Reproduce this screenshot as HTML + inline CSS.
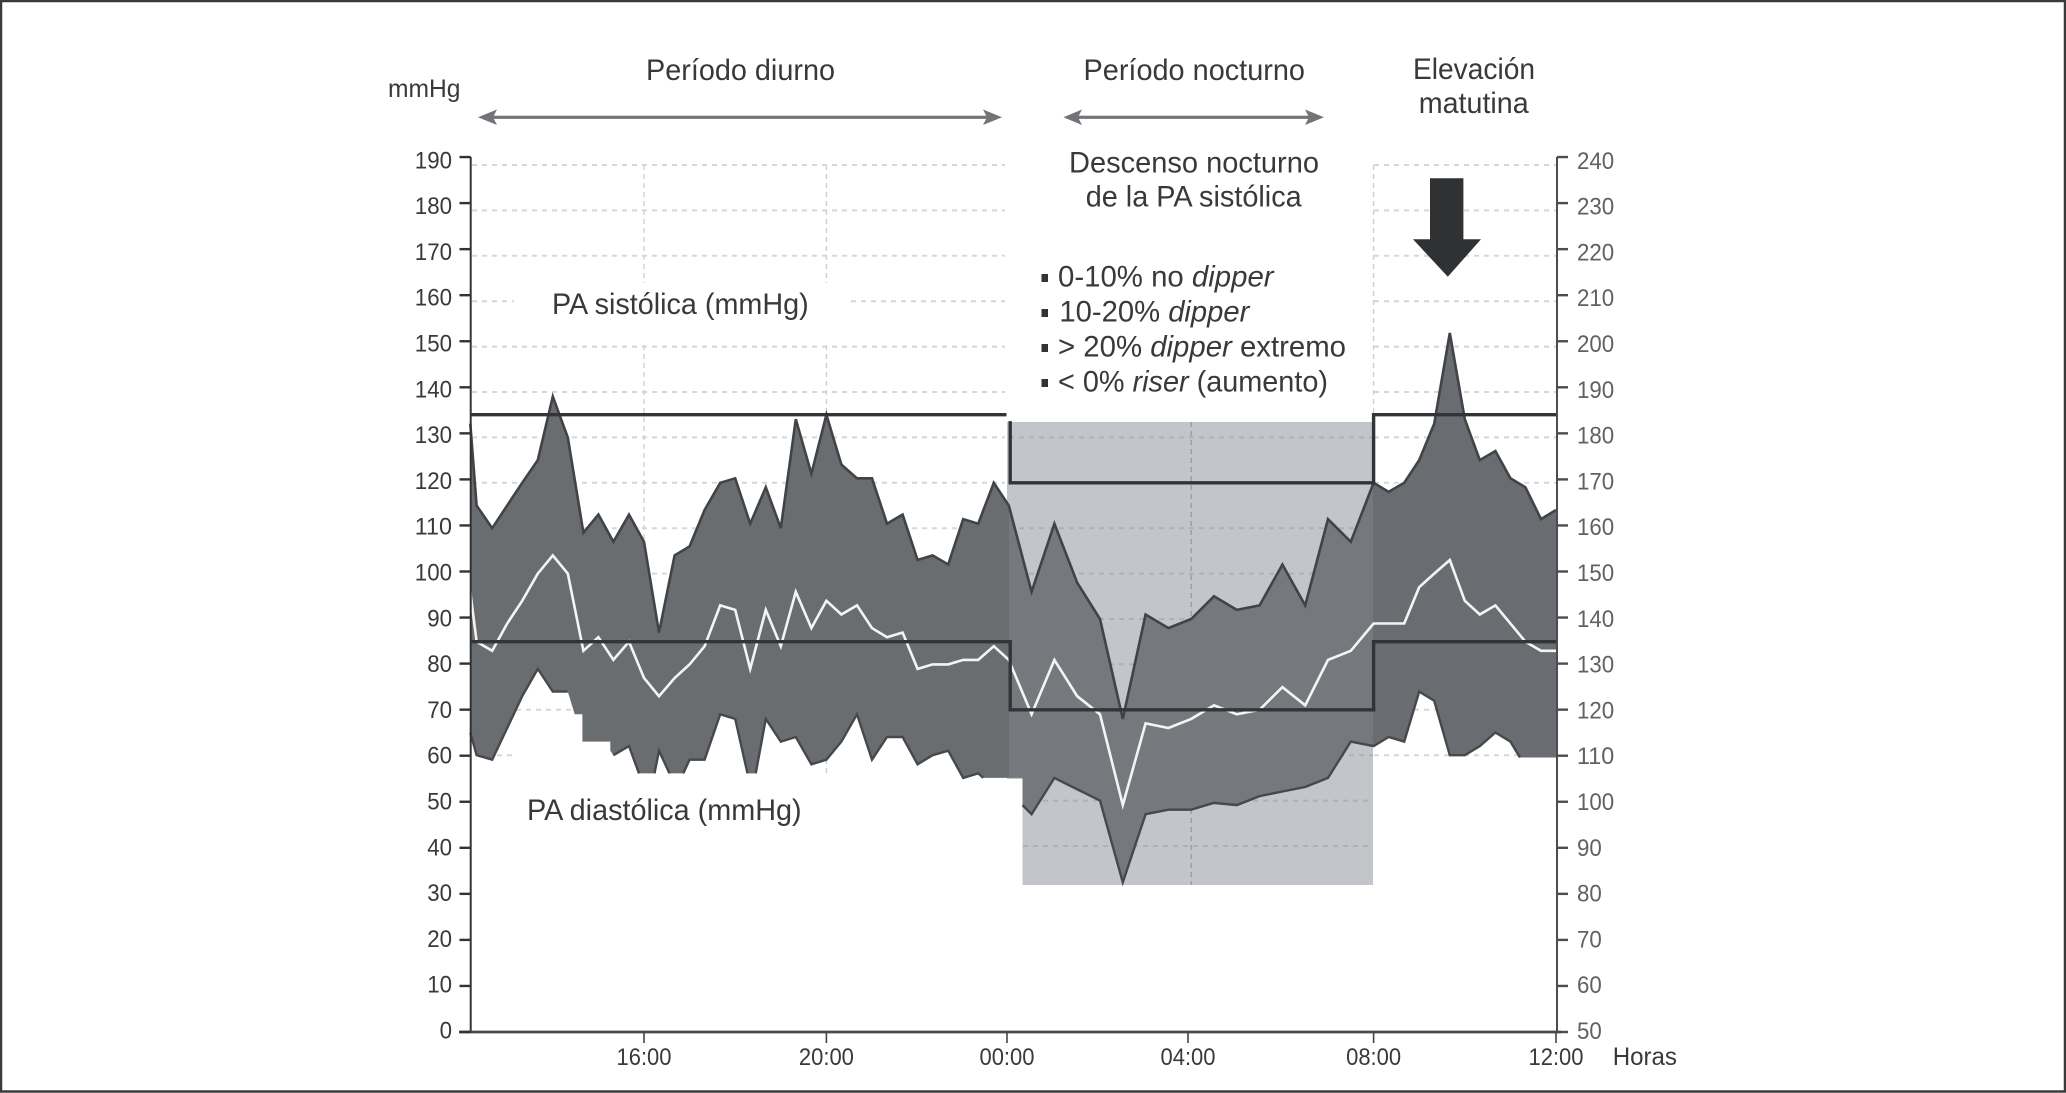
<!DOCTYPE html>
<html lang="es">
<head>
<meta charset="utf-8">
<title>Monitorización ambulatoria de la presión arterial</title>
<style>
html,body{margin:0;padding:0;background:#fff;}
svg{display:block;}
text{font-family:"Liberation Sans",sans-serif;fill:#38393b;}
</style>
</head>
<body>
<svg id="chart" xmlns="http://www.w3.org/2000/svg" width="2066" height="1093" viewBox="0 0 2066 1093">
  <defs>
    <linearGradient id="envelopeFill" gradientUnits="userSpaceOnUse" x1="471" y1="0" x2="1557" y2="0">
      <stop offset="0" stop-color="#6a6d70"/>
      <stop offset="0.4954" stop-color="#6a6d70"/>
      <stop offset="0.4954" stop-color="#75797d"/>
      <stop offset="0.8305" stop-color="#75797d"/>
      <stop offset="0.8305" stop-color="#696c70"/>
      <stop offset="1" stop-color="#696c70"/>
    </linearGradient>
  </defs>
  <rect x="1" y="1" width="2064" height="1090.5" fill="#fff" stroke="#3a3a3a" stroke-width="2.5"/>
  <g id="grid-day"></g>
  <polygon points="1007,422 1373,422 1373,885 1022.5,885 1022.5,779 1007,779" fill="#c2c5c9"/>
  <g id="grid-night"></g>
  <g id="series"></g>
  <g id="axes"></g>

  <text x="388" y="97" font-size="25" textLength="72.5" lengthAdjust="spacingAndGlyphs">mmHg</text>
  <text x="646" y="80" font-size="29.5" textLength="189" lengthAdjust="spacingAndGlyphs">Período diurno</text>
  <text x="1083.5" y="80" font-size="29.5" textLength="221.5" lengthAdjust="spacingAndGlyphs">Período nocturno</text>
  <text x="1413" y="79" font-size="29.5" textLength="122" lengthAdjust="spacingAndGlyphs">Elevación</text>
  <text x="1418.7" y="113" font-size="29.5" textLength="110" lengthAdjust="spacingAndGlyphs">matutina</text>

  <g fill="#727477">
    <rect x="490" y="115.7" width="500" height="3.2"/>
    <polygon points="478,117.3 497,109.5 493,117.3 497,125"/>
    <polygon points="1002,117.3 983,109.5 987,117.3 983,125"/>
  </g>
  <g fill="#727477">
    <rect x="1075" y="115.7" width="237" height="3.2"/>
    <polygon points="1063.4,117.3 1082,109.5 1078,117.3 1082,125"/>
    <polygon points="1324,117.3 1305,109.5 1309,117.3 1305,125"/>
  </g>

  <text x="1069" y="172.7" font-size="29.5" textLength="250" lengthAdjust="spacingAndGlyphs">Descenso nocturno</text>
  <text x="1085.7" y="206.7" font-size="29.5" textLength="216" lengthAdjust="spacingAndGlyphs">de la PA sistólica</text>

  <g>
    <rect x="1041.5" y="274" width="6.5" height="8" fill="#333"/>
    <text x="1058" y="286.7" font-size="29.5" textLength="215.6" lengthAdjust="spacingAndGlyphs">0-10% no <tspan font-style="italic">dipper</tspan></text>
    <rect x="1041.5" y="309" width="6.5" height="8" fill="#333"/>
    <text x="1059.4" y="321.7" font-size="29.5" textLength="190" lengthAdjust="spacingAndGlyphs">10-20% <tspan font-style="italic">dipper</tspan></text>
    <rect x="1041.5" y="344" width="6.5" height="8" fill="#333"/>
    <text x="1058" y="356.7" font-size="29.5" textLength="288" lengthAdjust="spacingAndGlyphs">&gt; 20% <tspan font-style="italic">dipper</tspan> extremo</text>
    <rect x="1041.5" y="379" width="6.5" height="8" fill="#333"/>
    <text x="1058" y="391.7" font-size="29.5" textLength="270" lengthAdjust="spacingAndGlyphs">&lt; 0% <tspan font-style="italic">riser</tspan> (aumento)</text>
  </g>

  <text x="552" y="314" font-size="29.5" textLength="256.7" lengthAdjust="spacingAndGlyphs">PA sistólica (mmHg)</text>
  <text x="527" y="820" font-size="29.5" textLength="274.6" lengthAdjust="spacingAndGlyphs">PA diastólica (mmHg)</text>
  <text x="1612.7" y="1065" font-size="25" textLength="64.3" lengthAdjust="spacingAndGlyphs">Horas</text>

  <polygon fill="#2f3133" points="1430,178.3 1463.4,178.3 1463.4,239.3 1481,239.3 1447.8,276.7 1413,239.3 1430,239.3"/>
</svg>

<script>
/* ---------- chart data (hours are counted from midnight of the first day) ---------- */
const envelopeHours = [12.19,12.33,12.67,13,13.33,13.67,14,14.33,14.67,15,15.33,15.67,16,16.33,16.67,17,17.33,17.67,18,18.33,18.67,19,19.33,19.67,20,20.33,20.67,21,21.33,21.67,22,22.33,22.67,23,23.33,23.67,24,24.5,25,25.5,26,26.5,27,27.5,28,28.5,29,29.5,30,30.5,31,31.5,32,32.33,32.67,33,33.33,33.67,34,34.33,34.67,35,35.33,35.67,36];
const systolicValues = [133,115,110,115,120,125,139,130,109,113,107,113,107,87,104,106,114,120,121,111,119,110,134,122,135,124,121,121,111,113,103,104,102,112,111,120,115,96,111,98,90,68,91,88,90,95,92,93,102,93,112,107,120,118,120,125,133,153,134,125,127,121,119,112,114];
const meanValues = [96,85,83,89,94,100,104,100,83,86,81,85,77,73,77,80,84,93,92,79,92,84,96,88,94,91,93,88,86,87,79,80,80,81,81,84,81,69,81,73,69,49,67,66,68,71,69,70,75,71,81,83,89,89,89,97,100,103,94,91,93,89,85,83,83];
const diastolicHours = [12.19,12.33,12.67,13,13.33,13.67,14,14.33,14.48,14.65,14.65,15.26,15.26,15.33,15.67,15.89,16.23,16.33,16.56,16.86,17,17.33,17.67,18,18.27,18.45,18.67,19,19.33,19.67,20,20.33,20.67,21,21.33,21.67,22,22.33,22.67,23,23.33,23.44,24.3,24.3,24.5,25,25.5,26,26.5,27,27.5,28,28.5,29,29.5,30,30.5,31,31.5,32,32.33,32.67,33,33.33,33.67,34,34.33,34.67,35,35.21,36];
const diastolicValues = [65,60,59,66,73,79,74,74,69,69,63,63,61,60,62,56,56,61,56,56,59,59,69,68,56,56,68,63,64,58,59,63,69,59,64,64,58,60,61,55,56,55,55,49,47,55,52.5,50,32,47,48,48,49.5,49,51,52,53,55,63,62,64,63,74,72,60,60,62,65,63,59.5,59.5];
const diastolicClippedFrom = [7,8,9,10,11,12,15,18,24,41,42,69];
const systolicLimitHours = [12.19,23.95,null,24.03,24.03,32,32,36];
const systolicLimitValues = [135,135,null,133.6,120,120,135,135];
const diastolicLimitHours = [12.19,24.03,24.03,32,32,36];
const diastolicLimitValues = [85,85,70,70,85,85];
const leftTickValues = [0,10,20,30,40,50,60,70,80,90,100,110,120,130,140,150,160,170,180,190];
const rightTickValues = [50,60,70,80,90,100,110,120,130,140,150,160,170,180,190,200,210,220,230,240];
const xTickHours = [16,20,23.96,27.93,32,36];
const xTickLabels = ['16:00','20:00','00:00','04:00','08:00','12:00'];
const gridFullValues = [190,180,170,150,140,130,120,110,100,90,80];
const gridNightUpperValues = [130,120,110,100,90,80,70,60];
const gridNightLowerValues = [50,40];
const gridMorningValues = [190,180,170,160,150,140,130,120,110,100,90,80,70,60];
const gridDayVerticalHours = [16,20];

/* ---------- axis functions ---------- */
const NS = 'http://www.w3.org/2000/svg';
function xOf(h){ return 644 + (h - 16) * 45.6; }
function yPlot(v){ return 165 + (190 - v) * 4.54; }
function yTick(v){ return 1032 - v * 4.605; }
function yLabel(v){ return 1039 - v * 4.58; }

function add(parent, tag, attrs){
  const el = document.createElementNS(NS, tag);
  for (const k in attrs) el.setAttribute(k, attrs[k]);
  parent.appendChild(el);
  return el;
}
function linePoints(hours, values){
  return hours.map((h, i) => xOf(h).toFixed(1) + ',' + yPlot(values[i]).toFixed(1));
}
function segmentPath(hours, values){
  let d = '', pen = false;
  hours.forEach((h, i) => {
    if (h === null) { pen = false; return; }
    d += (pen ? 'L' : 'M') + xOf(h).toFixed(1) + ' ' + yPlot(values[i]).toFixed(1);
    pen = true;
  });
  return d;
}
function outlinePath(hours, values, skipped){
  let d = '', pen = false;
  hours.forEach((h, i) => {
    d += (pen ? 'L' : 'M') + xOf(h).toFixed(1) + ' ' + yPlot(values[i]).toFixed(1);
    pen = !skipped.includes(i);
  });
  return d;
}

const gridDay = document.getElementById('grid-day');
const gridNight = document.getElementById('grid-night');
const seriesLayer = document.getElementById('series');
const axesLayer = document.getElementById('axes');

/* ---------- grid ---------- */
function hGrid(parent, v, x1, x2, color){
  const el = add(parent, 'line', {x1:x1, x2:x2, y1:yPlot(v), y2:yPlot(v), stroke:color, 'stroke-width':2, 'stroke-dasharray':'5 5'});
  
  
}
gridFullValues.forEach(v => hGrid(gridDay, v, 472, 1005, '#d6d7d9'));
hGrid(gridDay, 160, 472, 514, '#d6d7d9');
hGrid(gridDay, 160, 851, 1005, '#d6d7d9');
hGrid(gridDay, 70, 516, 572, '#d6d7d9');
hGrid(gridDay, 60, 497, 515, '#d6d7d9');
gridMorningValues.forEach(v => hGrid(gridDay, v, 1374, 1557, '#d6d7d9'));
gridNightUpperValues.forEach(v => hGrid(gridNight, v, 1009, 1373, '#adb0b4'));
gridNightLowerValues.forEach(v => hGrid(gridNight, v, 1023, 1373, '#adb0b4'));

gridDayVerticalHours.forEach(h => {
  [[165, 283], [345, 774]].forEach(r => {
    const el = add(gridDay, 'line', {x1:xOf(h), x2:xOf(h), y1:r[0], y2:r[1], stroke:'#cdcfd1', 'stroke-width':1.4, 'stroke-dasharray':'5 4'});
    
    
  });
});
const grid0800 = add(gridDay, 'line', {x1:xOf(32), x2:xOf(32), y1:165, y2:420, stroke:'#cdcfd1', 'stroke-width':1.4, 'stroke-dasharray':'5 4'});


const grid0400 = add(gridNight, 'line', {x1:xOf(28), x2:xOf(28), y1:422, y2:885, stroke:'#9a9da1', 'stroke-width':1.4, 'stroke-dasharray':'5 4'});



/* ---------- series ---------- */
const upperPts = linePoints(envelopeHours, systolicValues);
const lowerPts = linePoints(diastolicHours, diastolicValues);
const envelope = add(seriesLayer, 'polygon', {points: upperPts.concat(lowerPts.slice().reverse()).join(' '), fill:'url(#envelopeFill)'});



const sysLine = add(seriesLayer, 'polyline', {points: upperPts.join(' '), fill:'none', stroke:'#414346', 'stroke-width':2.6, 'stroke-linejoin':'miter'});



const diaLine = add(seriesLayer, 'path', {d: outlinePath(diastolicHours, diastolicValues, diastolicClippedFrom), fill:'none', stroke:'#46484b', 'stroke-width':2.4, 'stroke-linejoin':'miter'});



const meanLine = add(seriesLayer, 'polyline', {points: linePoints(envelopeHours, meanValues).join(' '), fill:'none', stroke:'#f4f4f2', 'stroke-width':2.6, 'stroke-linejoin':'miter'});



const sysLimit = add(seriesLayer, 'path', {d: segmentPath(systolicLimitHours, systolicLimitValues), fill:'none', stroke:'#333437', 'stroke-width':3.4});



const diaLimit = add(seriesLayer, 'path', {d: segmentPath(diastolicLimitHours, diastolicLimitValues), fill:'none', stroke:'#333437', 'stroke-width':3.4});



/* ---------- axes ---------- */
const leftAxis = add(axesLayer, 'line', {x1:470.7, x2:470.7, y1:yTick(190), y2:yTick(0), stroke:'#333', 'stroke-width':2});



const rightAxis = add(axesLayer, 'line', {x1:1557, x2:1557, y1:yTick(190), y2:yTick(0), stroke:'#4c4d50', 'stroke-width':2});



const bottomAxis = add(axesLayer, 'line', {x1:459, x2:1561, y1:1032, y2:1032, stroke:'#4a4b4e', 'stroke-width':2.8});



function tickWidth(text){ return String(text).length * 12.4; }

leftTickValues.forEach(v => {
  const t = add(axesLayer, 'line', {x1:459.5, x2:470.7, y1:yTick(v), y2:yTick(v), stroke:'#333', 'stroke-width':2.4});
  
  
  const l = add(axesLayer, 'text', {x:452 - tickWidth(v), y:yLabel(v) - 0.5, 'font-size':24.5, textLength:tickWidth(v), lengthAdjust:'spacingAndGlyphs'});
  
  
  l.textContent = v;
});
rightTickValues.forEach(v => {
  const pos = v - 50;
  const t = add(axesLayer, 'line', {x1:1557, x2:1568, y1:yTick(pos), y2:yTick(pos), stroke:'#4c4d50', 'stroke-width':2.4});
  
  
  const l = add(axesLayer, 'text', {x:1577, y:yLabel(pos), 'font-size':24.5, textLength:tickWidth(v), lengthAdjust:'spacingAndGlyphs', style:'fill:#606165'});
  
  
  l.textContent = v;
});
xTickHours.forEach((h, i) => {
  const t = add(axesLayer, 'line', {x1:xOf(h), x2:xOf(h), y1:1032, y2:1043, stroke:'#444', 'stroke-width':1.6});
  
  
  const l = add(axesLayer, 'text', {x:xOf(h) - 27.5, y:1065, 'font-size':24.5, textLength:55, lengthAdjust:'spacingAndGlyphs'});
  
  
  l.textContent = xTickLabels[i];
});
</script>
</body>
</html>
